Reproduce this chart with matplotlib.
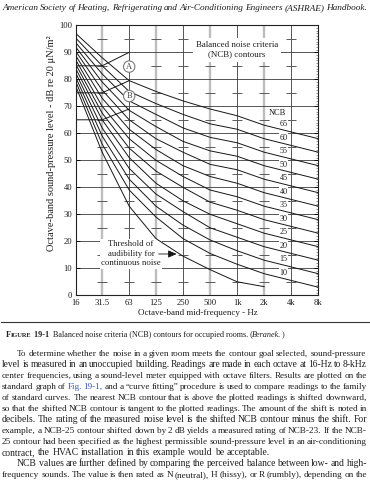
import matplotlib
matplotlib.use('Agg')
import matplotlib.pyplot as plt
from matplotlib.ticker import FixedLocator, MultipleLocator, NullLocator

# ---------------- data ----------------
freqs = [16, 31.5, 63, 125, 250, 500, 1000, 2000, 4000, 8000]
freq_labels = ['16', '31.5', '63', '125', '250', '500', '1k', '2k', '4k', '8k']
ncb_ratings = [65, 60, 55, 50, 45, 40, 35, 30, 25, 20, 15, 10]

ncb65 = [97.0, 88.0, 79.5, 75.5, 72.0, 69.0, 66.5, 63.0, 60.5, 58.0]
ncb60 = [95.3, 85.0, 75.5, 71.0, 67.0, 63.5, 61.5, 58.0, 55.5, 53.0]
ncb55 = [93.6, 82.0, 72.0, 67.0, 62.0, 58.5, 56.5, 53.0, 50.5, 48.0]
ncb50 = [92.0, 79.0, 68.5, 62.5, 57.0, 53.5, 51.5, 48.0, 45.5, 43.0]
ncb45 = [90.4, 76.0, 65.0, 58.0, 53.0, 48.5, 46.5, 43.0, 40.5, 38.0]
ncb40 = [88.8, 73.0, 61.5, 54.0, 48.0, 44.0, 41.5, 38.0, 35.5, 33.0]
ncb35 = [87.2, 70.0, 58.0, 50.0, 44.0, 39.0, 36.5, 33.0, 30.5, 28.0]
ncb30 = [85.6, 67.5, 54.5, 46.0, 40.0, 34.5, 31.5, 28.0, 25.5, 23.0]
ncb25 = [84.0, 65.0, 51.0, 41.5, 35.0, 30.0, 26.5, 23.0, 20.5, 18.0]
ncb20 = [82.4, 62.0, 47.0, 37.5, 31.0, 25.0, 21.5, 18.0, 15.5, 13.0]
ncb15 = [80.8, 59.0, 43.0, 33.0, 26.0, 20.5, 16.5, 13.0, 10.5, 8.0]
ncb10 = [79.2, 56.0, 39.0, 29.0, 21.0, 15.5, 11.5, 8.0, 5.5, 3.0]
ncb_curves = [ncb65, ncb60, ncb55, ncb50, ncb45, ncb40,
              ncb35, ncb30, ncb25, ncb20, ncb15, ncb10]

# threshold of audibility for continuous noise (16 Hz .. 2 kHz)
threshold = [77.5, 53.0, 33.0, 21.0, 14.5, 9.5, 5.0, 3.2]

# vibration / rattle region boundaries (16, 31.5, 63 Hz)
region_freqs = [16, 31.5, 63]
region_a = [85, 85, 90]
region_b = [75, 75, 79.5]
region_c = [65, 65, 69]

header = ("American Society of Heating, Refrigerating and Air-Conditioning "
          "Engineers (ASHRAE) Handbook.")
body_lines = [
    "To determine whether the noise in a given room meets the contour goal selected, sound-pressure",
    "level is measured in an unoccupied building. Readings are made in each octave at 16-Hz to 8-kHz",
    "center frequencies, using a sound-level meter equipped with octave filters. Results are plotted on the",
    "standard graph of Fig. 19-1, and a \u201ccurve fitting\u201d procedure is used to compare readings to the family",
    "of standard curves. The nearest NCB contour that is above the plotted readings is shifted downward,",
    "so that the shifted NCB contour is tangent to the plotted readings. The amount of the shift is noted in",
    "decibels. The rating of the measured noise level is the shifted NCB contour minus the shift. For",
    "example, a NCB-25 contour shifted down by 2 dB yields a measured rating of NCB-23. If the NCB-",
    "25 contour had been specified as the highest permissible sound-pressure level in an air-conditioning",
    "contract, the HVAC installation in this example would be acceptable.",
    "NCB values are further defined by comparing the perceived balance between low- and high-",
    "frequency sounds. The value is then rated as N (neutral), H (hissy), or R (rumbly), depending on the",
]
indented = {0, 10}
not_justified = {9}
blue_words = {"Fig.", "19-1,"}

# ---------------- figure ----------------
W, H = 370, 480
SERIF = ['Liberation Serif', 'DejaVu Serif']
plt.rcParams['font.family'] = SERIF
TXT = '#1e1e1e'

fig = plt.figure(figsize=(W / 100, H / 100), dpi=100)
fig.patch.set_facecolor('white')
renderer = fig.canvas.get_renderer()


def fx(x):
    return x / W


def fy(y):
    return 1 - y / H


def draw_words(words, base_y, x0, x1, size, justify=True, style='normal',
               colors=None, min_gap=1.8):
    arts = []
    for i, w in enumerate(words):
        c = colors[i] if colors else TXT
        arts.append(fig.text(fx(x0), fy(base_y), w, fontsize=size, style=style,
                             color=c, ha='left', va='baseline'))
    n = len(arts)
    for _ in range(3):
        widths = [a.get_window_extent(renderer).width for a in arts]
        need = sum(widths) + (n - 1) * min_gap
        if not justify or need <= (x1 - x0):
            break
        size *= ((x1 - x0) - (n - 1) * min_gap) / sum(widths)
        for a in arts:
            a.set_fontsize(size)
    if justify and n > 1:
        gap = max((x1 - x0 - sum(widths)) / (n - 1), min_gap * 0.8)
    else:
        gap = 0.25 * size * 100 / 72
    x = x0
    for a, wd in zip(arts, widths):
        a.set_x(fx(x))
        x += wd + gap


# header
draw_words(header.split(), 10.0, 2, 367, 7.5, justify=True, style='italic')

# ---------------- chart ----------------
ax = fig.add_axes([fx(75.7), fy(295.3), (318.3 - 75.7) / W, (295.3 - 25.3) / H])
ax.set_xscale('log', base=2)
ax.set_xlim(16, 8000)
ax.set_ylim(0, 100)
ax.xaxis.set_major_locator(FixedLocator(freqs))
ax.xaxis.set_minor_locator(NullLocator())
ax.set_xticklabels(freq_labels)
ax.tick_params(axis='x', which='major', length=0, pad=2.5, labelsize=6.2,
               labelcolor=TXT)
ax.yaxis.set_major_locator(MultipleLocator(10))
ax.yaxis.set_minor_locator(MultipleLocator(1))
ax.tick_params(axis='y', which='major', direction='in', length=3, width=0.6,
               left=True, right=True, pad=2.5, labelsize=6.2, labelcolor=TXT)
ax.tick_params(axis='y', which='minor', direction='in', length=1.8, width=0.4,
               left=False, right=True, color='#444444')
for s in ax.spines.values():
    s.set_linewidth(0.8)
    s.set_color('#222222')
    s.set_zorder(5)

grid_gray = freqs[1:-1:2]
grid_dark = freqs[2:-1:2]
for f in grid_gray:
    ax.axvline(f, color='#bdbdbd', lw=1.7, zorder=1)
for f in grid_dark:
    ax.axvline(f, color='#3a3a3a', lw=0.6, zorder=1.1)
for lv in range(10, 100, 10):
    ax.axhline(lv, color='#3a3a3a', lw=0.6, zorder=1.1)
cross_levels = list(range(5, 100, 10))
for f in freqs[1:-1]:
    ax.plot([f] * len(cross_levels), cross_levels, ls='none', marker='_',
            ms=6.5, mew=0.7, color='#5a5a5a', zorder=1.2)

for c in ncb_curves:
    ax.plot(freqs, c, color='#161616', lw=0.7, zorder=3,
            solid_joinstyle='round')
ax.plot(freqs[:len(threshold)], threshold, color='#161616', lw=0.7, zorder=3,
        solid_joinstyle='round')
for r in (region_a, region_b, region_c):
    ax.plot(region_freqs, r, color='#161616', lw=0.7, zorder=3)

# circled letters
for letter, lv in (('A', 84.7), ('B', 73.8)):
    ax.text(63, lv, letter, fontsize=6, ha='center', va='center', color='#444444',
            zorder=4, bbox=dict(boxstyle='circle,pad=0.2', fc='white',
                                ec='#7a7a7a', lw=0.8))

# title box
ax.text(1000, 90.9, "Balanced noise criteria\n(NCB) contours", fontsize=6.4,
        ha='center', va='center', color=TXT, linespacing=1.2, zorder=2,
        bbox=dict(boxstyle='square,pad=0.35', fc='white', ec='none'))

# NCB labels
ax.text(2810, 67.5, "NCB", fontsize=6.0, ha='center', va='center', color=TXT,
        zorder=2, bbox=dict(boxstyle='square,pad=0.1', fc='white', ec='none'))
for n in ncb_ratings:
    ax.text(3300, n - 1.6, str(n), fontsize=5.9, ha='center', va='center',
            color=TXT, zorder=2,
            bbox=dict(boxstyle='square,pad=0.05', fc='white', ec='none'))

# threshold annotation
ax.text(66, 15.3, "Threshold of\naudibility for\ncontinuous noise", fontsize=6.3,
        ha='center', va='center', color=TXT, linespacing=1.25, zorder=2,
        bbox=dict(boxstyle='square,pad=0.15', fc='white', ec='none'))
ax.annotate('', xy=(212, 15.3), xytext=(134, 15.3), zorder=4,
            arrowprops=dict(arrowstyle='-|>,head_length=0.5,head_width=0.22',
                            color='#161616', lw=0.6, shrinkA=0, shrinkB=0))

# axis titles
fig.text(fx(52), fy(143), "Octave-band sound-pressure level - dB re 20 \u03bcN/m\u00b2",
         rotation=90, fontsize=7.5, ha='center', va='center', color=TXT)
fig.text(fx(197.5), fy(313.3), "Octave-band mid-frequency - Hz", fontsize=6.5,
         ha='center', va='center', color=TXT)

# rule
fig.add_artist(plt.Line2D([fx(1), fx(369)], [fy(322), fy(322)], color='#333333',
                          lw=0.8))

# caption
cap_base = 337.3
x = 6.0
pieces = [("F", 5.9, 'normal', 'bold'), ("IGURE", 4.6, 'normal', 'bold'),
          (" 19-1", 5.9, 'normal', 'bold'),
          ("  Balanced noise criteria (NCB) contours for occupied rooms. (", 5.9, 'normal', 'normal'),
          ("Beranek.", 5.9, 'italic', 'normal'), (")", 5.9, 'normal', 'normal')]
for txt, sz, st, wt in pieces:
    t = fig.text(fx(x), fy(cap_base), txt, fontsize=sz, style=st, weight=wt,
                 color=TXT, ha='left', va='baseline')
    x += t.get_window_extent(renderer).width

# body paragraphs
for i, line in enumerate(body_lines):
    words = line.split()
    cols = ['#3a55b8' if w in blue_words else TXT for w in words]
    x0 = 17 if i in indented else 2
    draw_words(words, 356.2 + 11 * i, x0, 367, 6.95,
               justify=(i not in not_justified), colors=cols)

fig.savefig('out.png', dpi=100, facecolor='white')
